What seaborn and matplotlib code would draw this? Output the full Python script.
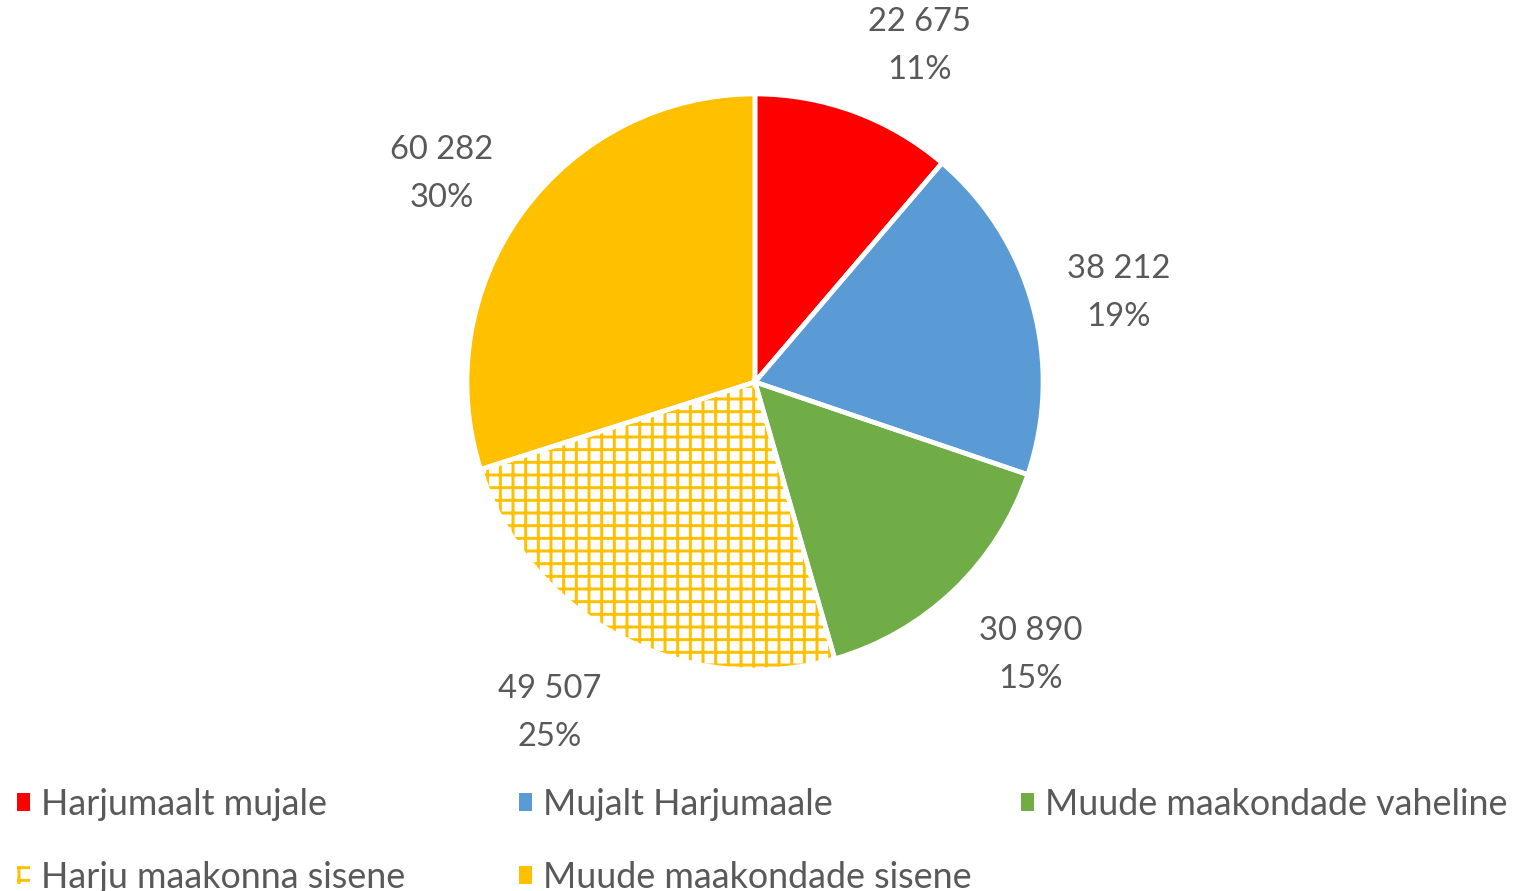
import matplotlib
matplotlib.use("Agg")
import matplotlib.pyplot as plt
import matplotlib.patches as mpatches
import numpy as np
import seaborn as sns

categories = ["Harjumaalt mujale", "Mujalt Harjumaale", "Muude maakondade vaheline",
              "Harju maakonna sisene", "Muude maakondade sisene"]
values = [22675, 38212, 30890, 49507, 60282]
value_labels = ["22 675", "38 212", "30 890", "49 507", "60 282"]
pct_labels = ["11%", "19%", "15%", "25%", "30%"]
colors = ["#FF0000", "#5B9BD5", "#70AD47", "#FFC000", "#FFC000"]
hatched = [False, False, False, True, False]

sns.set_theme(style="white")
plt.rcParams['font.family'] = ['Lato', 'DejaVu Sans']
plt.rcParams['hatch.linewidth'] = 1.4

DPI = 152
W, H = 1523, 891
fig = plt.figure(figsize=(W / DPI, H / DPI), dpi=DPI)
cx, cy, R = 755, 382, 288
ax = fig.add_axes([(cx - R) / W, (H - cy - R) / H, 2 * R / W, 2 * R / H])

face = ["white" if h else c for c, h in zip(colors, hatched)]
wedges, _ = ax.pie(values, colors=face, startangle=90, counterclock=False,
                   wedgeprops=dict(linewidth=0, edgecolor="none"))
for w, c, h in zip(wedges, colors, hatched):
    if h:
        w.set_hatch("++")
        w.set_edgecolor(c)
        w.set_linewidth(0)
# white separator edges on top
edges, _ = ax.pie(values, colors=["none"] * len(values), startangle=90, counterclock=False,
                  wedgeprops=dict(linewidth=2.2, edgecolor="white", fill=False))
ax.set_xlim(-1, 1)
ax.set_ylim(-1, 1)
ax.set_aspect("equal")
ax.axis("off")

txt_color = "#595959"
r_lab = 1.12
half_w_px, half_h_px, shift_px = 53, 44, -8
to_pt = 72 / DPI
for w, vl, pl in zip(wedges, value_labels, pct_labels):
    ang = np.deg2rad((w.theta1 + w.theta2) / 2)
    c, s = np.cos(ang), np.sin(ang)
    ax.annotate(vl + "\n" + pl, xy=(r_lab * c, r_lab * s), xycoords="data",
                xytext=(np.sign(c) * half_w_px * to_pt,
                        (half_h_px * s + shift_px) * to_pt),
                textcoords="offset points", ha="center", va="center", ma="center",
                fontsize=15.5, color=txt_color, linespacing=1.76,
                annotation_clip=False)

# legends: three columns, filled row-wise
handles = []
for c, h in zip(colors, hatched):
    if h:
        handles.append(mpatches.Patch(facecolor="white", edgecolor=c, hatch="++", linewidth=0))
    else:
        handles.append(mpatches.Patch(facecolor=c, edgecolor="none"))

cols = [[0, 3], [1, 4], [2]]
col_x = [17, 519, 1021]
for idxs, xpx in zip(cols, col_x):
    fig.legend([handles[i] for i in idxs], [categories[i] for i in idxs],
               loc="upper left", bbox_to_anchor=(xpx / W, 1 - 788 / H),
               frameon=False, fontsize=17, handlelength=0.37, handleheight=0.37,
               handletextpad=0.3, labelspacing=1.11, borderaxespad=0, borderpad=0,
               labelcolor=txt_color)

fig.savefig("out.png", dpi=DPI)
